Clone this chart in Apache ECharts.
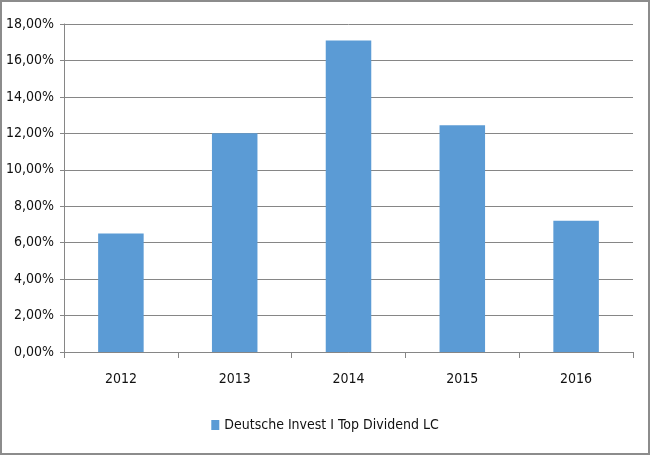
<!DOCTYPE html>
<html lang="de">
<head>
  <meta charset="UTF-8">
  <title>Deutsche Invest I Top Dividend LC</title>
  <script src="https://cdn.jsdelivr.net/npm/echarts@6/dist/echarts.min.js"></script>
  <style>
    html, body { margin: 0; padding: 0; background: #fff; }
    #chart {
      width: 650px;
      height: 455px;
      box-sizing: border-box;
      border: 2px solid #8c8c8c;
    }
  </style>
</head>
<body>
  <div id="chart"></div>
  <script>
    // Daten
    var years = ['2012', '2013', '2014', '2015', '2016'];
    var seriesName = 'Deutsche Invest I Top Dividend LC';
    var returns = [6.5, 12.0, 17.1, 12.45, 7.2];

    var font = '"DejaVu Sans Condensed", "Liberation Sans Narrow", "Open Sans", sans-serif';
    var chart = echarts.init(document.getElementById('chart'));

    function pct(v) {
      return v.toFixed(2).replace('.', ',') + '%';
    }

    var option = {
      animation: false,
      grid: { left: 62, right: 15, top: 22, bottom: 101 },
      legend: {
        bottom: 16,
        left: 'center',
        icon: 'rect',
        itemWidth: 8,
        itemHeight: 10,
        itemGap: 4,
        textStyle: { fontFamily: font, fontSize: 14, color: '#111' },
        data: [seriesName]
      },
      xAxis: {
        type: 'category',
        data: years,
        axisLine: { lineStyle: { color: '#868686', width: 1 } },
        axisTick: { show: true, length: 6, lineStyle: { color: '#868686' } },
        axisLabel: { fontFamily: font, fontSize: 14, color: '#111', margin: 20 }
      },
      yAxis: {
        type: 'value',
        min: 0,
        max: 18,
        interval: 2,
        axisLine: { show: true, lineStyle: { color: '#868686' } },
        axisTick: { show: true, length: 4, lineStyle: { color: '#868686' } },
        splitLine: { lineStyle: { color: '#868686', width: 1 } },
        axisLabel: { fontFamily: font, fontSize: 14, color: '#111', margin: 10, formatter: pct }
      },
      series: [{
        name: seriesName,
        type: 'bar',
        data: returns,
        barWidth: '40%',
        itemStyle: { color: '#5B9BD5' }
      }]
    };

    chart.setOption(option);
  </script>
</body>
</html>
